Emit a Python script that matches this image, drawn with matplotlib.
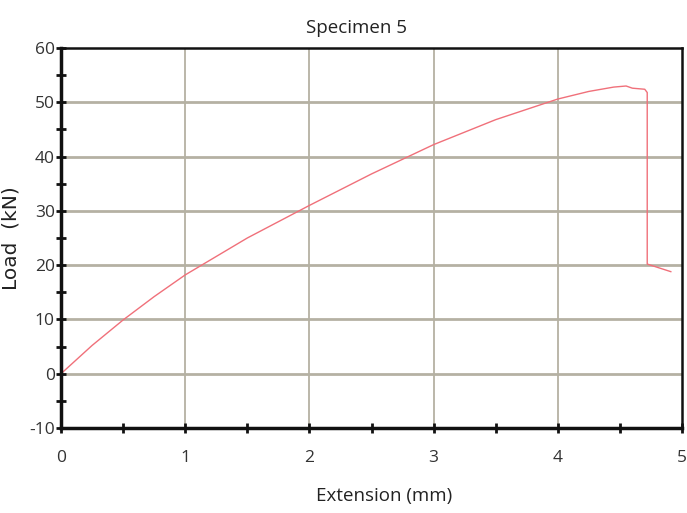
import matplotlib
matplotlib.use("Agg")
import matplotlib.pyplot as plt
from matplotlib.ticker import MultipleLocator

plt.rcParams["axes.unicode_minus"] = False

# Load-extension record for specimen 5
extension_mm = [0.0, 0.25, 0.5, 0.75, 1.0, 1.5, 2.0, 2.5, 3.0, 3.5, 4.0, 4.25,
                4.45, 4.55, 4.6, 4.7, 4.72, 4.72, 4.91]
load_kn = [0.0, 5.2, 9.9, 14.2, 18.2, 25.0, 31.0, 36.8, 42.2, 46.8, 50.6, 52.0,
           52.8, 53.0, 52.6, 52.4, 51.8, 20.2, 18.8]

x_ticks = [0, 1, 2, 3, 4, 5]
y_ticks = [-10, 0, 10, 20, 30, 40, 50, 60]

label_font = ["Open Sans", "DejaVu Sans"]

fig = plt.figure(figsize=(6.87, 5.13), dpi=100)
ax = fig.add_axes([61 / 687, 1 - 428 / 513, 621 / 687, 380 / 513])

ax.plot(extension_mm, load_kn, color="#f0707a", lw=1.0)

ax.set_xlim(0, 5)
ax.set_ylim(-10, 60)
ax.set_xticks(x_ticks)
ax.set_yticks(y_ticks)
ax.xaxis.set_minor_locator(MultipleLocator(0.5))
ax.yaxis.set_minor_locator(MultipleLocator(5))

grid_color = "#b5b1a3"
for xv in x_ticks[1:-1]:
    ax.axvline(xv, color=grid_color, lw=1.3, zorder=0)
for yv in y_ticks[1:-1]:
    ax.axhline(yv, color=grid_color, lw=2.0, zorder=0)

for side in ["left", "bottom"]:
    ax.spines[side].set_linewidth(2.5)
for side in ["top", "right"]:
    ax.spines[side].set_linewidth(1.8)
for s in ax.spines.values():
    s.set_color("#111111")

ax.tick_params(axis="both", which="both", direction="inout", color="#111111",
               width=2, top=False, right=False)
ax.tick_params(axis="both", which="major", length=7, labelsize=12.5,
               labelcolor="#333333")
ax.tick_params(axis="both", which="minor", length=7)
ax.tick_params(axis="x", which="major", pad=12)
ax.tick_params(axis="y", which="major", pad=1)

for lab in ax.get_xticklabels() + ax.get_yticklabels():
    lab.set_family(label_font)

ax.set_title("Specimen 5", fontsize=13.5, family=label_font, color="#222222",
             pad=11, x=(357 - 61) / 621)
ax.set_xlabel("Extension (mm)", fontsize=13.5, family=label_font,
              color="#222222")
ax.xaxis.set_label_coords((384 - 61) / 621, -0.155)
ax.set_ylabel("Load  (kN)", fontsize=14.5, family="DejaVu Sans", color="#222222",
              labelpad=6)

fig.savefig("out.png", dpi=100)
